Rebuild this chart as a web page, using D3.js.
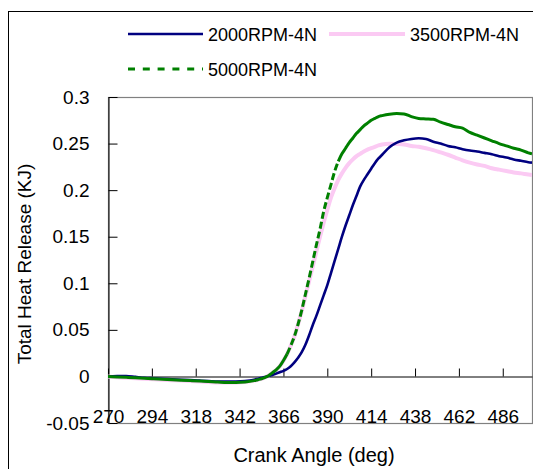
<!DOCTYPE html>
<html>
<head>
<meta charset="utf-8">
<script src="https://cdn.jsdelivr.net/npm/d3@7/dist/d3.min.js"></script>
<style>
  html, body { margin: 0; padding: 0; background: #fff; }
  svg { display: block; }
  text { font-family: "Liberation Sans", Arial, sans-serif; fill: #000; }
</style>
</head>
<body>
<svg id="chart" width="533" height="469"></svg>
<script>
// Crank angle samples (deg), shared by all three runs
const angles = [
  270, 275, 280, 285, 290, 295, 300, 305, 310, 315, 320, 325, 330, 335, 340, 345, 350,
  352, 354, 356, 358, 360, 362, 364, 366, 368, 370, 372, 374, 376, 378, 380, 382, 384,
  386, 388, 390, 392, 394, 396, 398, 400, 402, 404, 406, 408, 410, 412, 414, 416, 418, 420,
  424, 428, 432, 436, 440, 444, 448, 452, 456, 460, 464, 468, 472, 476, 480, 484, 488,
  492, 496, 500, 502
];

// Total heat release (kJ), 2000 rpm
const heat2000 = [
  0, 0.0005, 0.0005, -0.0005, -0.0015, -0.002, -0.0025, -0.003, -0.0035, -0.004, -0.0045, -0.005, -0.0055, -0.0055, -0.0055, -0.005, -0.0035,
  -0.0025, -0.0015, -0.0005, 0.0005, 0.0015, 0.003, 0.0045, 0.006, 0.008, 0.011, 0.015, 0.020, 0.026, 0.034, 0.044, 0.055, 0.065,
  0.076, 0.087, 0.098, 0.111, 0.124, 0.137, 0.150, 0.162, 0.173, 0.184, 0.194, 0.204, 0.211, 0.217, 0.223, 0.229, 0.234, 0.238,
  0.246, 0.251, 0.2535, 0.255, 0.2557, 0.255, 0.252, 0.250, 0.2475, 0.246, 0.244, 0.2425, 0.2415, 0.240, 0.2385, 0.2365, 0.235,
  0.233, 0.2315, 0.230, 0.2295
];

// Total heat release (kJ), 3500 rpm
const heat3500 = [
  0, -0.001, -0.0015, -0.002, -0.0025, -0.003, -0.0035, -0.004, -0.0045, -0.005, -0.0055, -0.006, -0.0065, -0.0065, -0.0065, -0.006, -0.0045,
  -0.0035, -0.0025, -0.001, 0.001, 0.004, 0.007, 0.011, 0.017, 0.024, 0.033, 0.043, 0.056, 0.070, 0.086, 0.102, 0.118, 0.134,
  0.150, 0.165, 0.179, 0.192, 0.202, 0.211, 0.218, 0.224, 0.229, 0.233, 0.2365, 0.239, 0.2415, 0.2435, 0.245, 0.2465, 0.248, 0.249,
  0.2498, 0.2495, 0.249, 0.2475, 0.2465, 0.245, 0.243, 0.2405, 0.238, 0.235, 0.232, 0.2295, 0.2275, 0.226, 0.2235, 0.222, 0.2205,
  0.219, 0.218, 0.2168, 0.2163
];

// Total heat release (kJ), 5000 rpm
const heat5000 = [
  0, -0.0005, -0.001, -0.0015, -0.002, -0.0025, -0.003, -0.0035, -0.004, -0.0045, -0.005, -0.0055, -0.006, -0.0065, -0.0065, -0.006, -0.0045,
  -0.0035, -0.0025, -0.001, 0.001, 0.004, 0.007, 0.011, 0.017, 0.024, 0.033, 0.043, 0.056, 0.071, 0.088, 0.105, 0.123, 0.141,
  0.158, 0.177, 0.192, 0.206, 0.220, 0.231, 0.239, 0.245, 0.251, 0.256, 0.261, 0.265, 0.269, 0.272, 0.275, 0.277, 0.279, 0.280,
  0.2815, 0.2822, 0.2818, 0.279, 0.277, 0.2765, 0.276, 0.273, 0.2705, 0.268, 0.2665, 0.262, 0.259, 0.256, 0.253, 0.250, 0.2475,
  0.245, 0.243, 0.240, 0.239
];

const seriesNames = ["2000RPM-4N", "3500RPM-4N", "5000RPM-4N"];
const xTicks = [270, 294, 318, 342, 366, 390, 414, 438, 462, 486];
const yTicks = [-0.05, 0, 0.05, 0.1, 0.15, 0.2, 0.25, 0.3];
const yTickLabels = ["-0.05", "0", "0.05", "0.1", "0.15", "0.2", "0.25", "0.3"];
const xTitle = "Crank Angle (deg)";
const yTitle = "Total Heat Release (KJ)";

const svg = d3.select("#chart");

// Outer chart frame (continues past the right and bottom edges)
svg.append("rect")
  .attr("x", 8.5).attr("y", 11.5)
  .attr("width", 700).attr("height", 700)
  .attr("fill", "none").attr("stroke", "#000").attr("stroke-width", 1);

const plot = { left: 108, right: 532, top: 97, bottom: 423 };

const x = d3.scaleLinear().domain([270, 502]).range([plot.left, plot.right]);
const y = d3.scaleLinear().domain([-0.05, 0.3]).range([plot.bottom, plot.top]);

// Plot-area border
svg.append("rect")
  .attr("x", plot.left + 0.5).attr("y", plot.top + 0.5)
  .attr("width", plot.right - plot.left).attr("height", plot.bottom - plot.top)
  .attr("fill", "none").attr("stroke", "#808080").attr("stroke-width", 1.2);

// Y axis on the left, ticks pointing into the plot
const yAxis = d3.axisLeft(y)
  .tickValues(yTicks)
  .tickFormat((d, i) => yTickLabels[i])
  .tickSizeInner(-9).tickSizeOuter(0).tickPadding(19);
const gy = svg.append("g")
  .attr("transform", `translate(${plot.left + 0.5},0)`)
  .call(yAxis);
gy.selectAll("text").attr("font-size", 19).attr("fill", "#000")
  .style("font-family", '"Liberation Sans", Arial, sans-serif');
gy.selectAll("line, path").attr("stroke", "#000");

// X axis drawn along y = 0, ticks pointing up, labels below
const xAxis = d3.axisBottom(x)
  .tickValues(xTicks)
  .tickFormat(d3.format("d"))
  .tickSizeInner(-8).tickSizeOuter(0).tickPadding(32.6);
const gx = svg.append("g")
  .attr("transform", `translate(0,${Math.round(y(0)) + 0.5})`)
  .call(xAxis);
gx.selectAll("text").attr("font-size", 19).attr("fill", "#000")
  .style("font-family", '"Liberation Sans", Arial, sans-serif');
gx.selectAll("line, path").attr("stroke", "#000");

// Axis titles
svg.append("text")
  .attr("x", 314).attr("y", 462)
  .attr("text-anchor", "middle").attr("font-size", 20)
  .text(xTitle);
svg.append("text")
  .attr("transform", "translate(31,264) rotate(-90)")
  .attr("text-anchor", "middle").attr("font-size", 19)
  .text(yTitle);

// Curves
const pts = vals => angles.map((a, i) => [a, vals[i]]);
const line = d3.line().x(d => x(d[0])).y(d => y(d[1])).curve(d3.curveMonotoneX);

const clip = svg.append("clipPath").attr("id", "plotclip")
  .append("rect").attr("x", plot.left).attr("y", plot.top)
  .attr("width", plot.right - plot.left).attr("height", plot.bottom - plot.top);
const curves = svg.append("g").attr("clip-path", "url(#plotclip)");

curves.append("path").datum(pts(heat3500))
  .attr("d", line).attr("fill", "none")
  .attr("stroke", "#fbcaf3").attr("stroke-width", 4);

curves.append("path").datum(pts(heat2000))
  .attr("d", line).attr("fill", "none")
  .attr("stroke", "#000080").attr("stroke-width", 2.6);

// 5000 rpm: the dash pattern only shows where the curve is steep
const p5 = pts(heat5000);
const steep = p5.slice(1).map((p, i) => {
  const q = p5[i];
  return Math.abs((y(p[1]) - y(q[1])) / (x(p[0]) - x(q[0]))) > 2.2;
});
let runs = [];
let cur = { steep: steep[0], pts: [p5[0]] };
steep.forEach((s, i) => {
  if (s !== cur.steep) {
    runs.push(cur);
    cur = { steep: s, pts: [p5[i]] };
  }
  cur.pts.push(p5[i + 1]);
});
runs.push(cur);
runs.forEach(r => {
  curves.append("path").datum(r.pts)
    .attr("d", line).attr("fill", "none")
    .attr("stroke", "#008000").attr("stroke-width", 3)
    .attr("stroke-dasharray", r.steep ? "7,3" : null);
});

// Legend
const legend = [
  { name: seriesNames[0], x1: 128, x2: 203, y: 34, color: "#000080", w: 2.6, dash: null },
  { name: seriesNames[1], x1: 329, x2: 405, y: 34, color: "#fbcaf3", w: 4, dash: null },
  { name: seriesNames[2], x1: 128, x2: 203, y: 69, color: "#008000", w: 3, dash: "7,7.8" }
];
legend.forEach(l => {
  svg.append("line")
    .attr("x1", l.x1).attr("x2", l.x2).attr("y1", l.y).attr("y2", l.y)
    .attr("stroke", l.color).attr("stroke-width", l.w)
    .attr("stroke-dasharray", l.dash);
  svg.append("text")
    .attr("x", l.x2 + 5).attr("y", l.y + 7)
    .attr("font-size", 18)
    .text(l.name);
});
</script>
</body>
</html>
